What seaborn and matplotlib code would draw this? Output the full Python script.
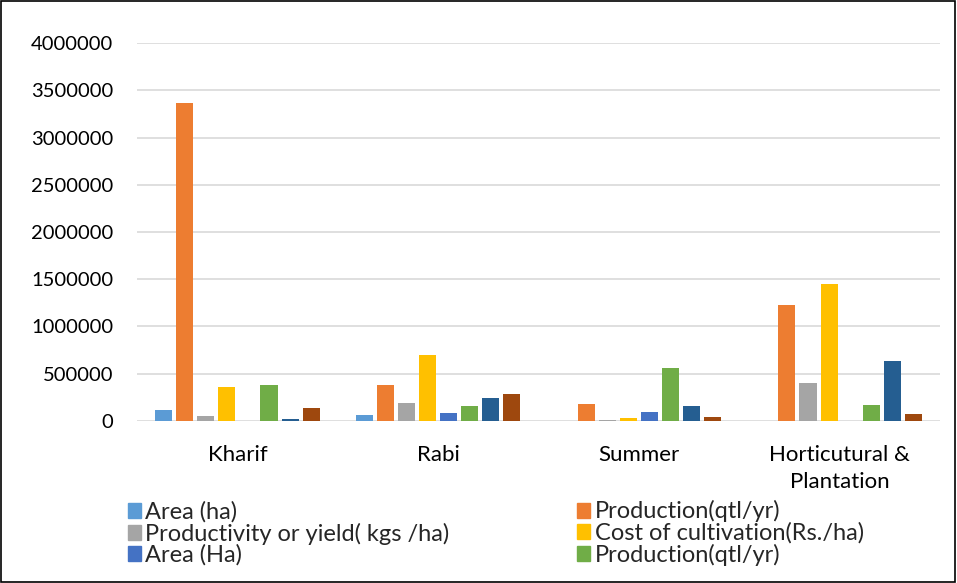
import pandas as pd
import seaborn as sns
from matplotlib import pyplot as plt
from matplotlib.patches import Patch
from matplotlib.ticker import StrMethodFormatter

seasons = ["Kharif", "Rabi", "Summer", "Horticutural &\nPlantation"]
series_labels = ["Area (ha)", "Production(qtl/yr)", "Productivity or yield( kgs /ha)",
                 "Cost of cultivation(Rs./ha)", "Area (Ha)", "Production(qtl/yr)",
                 "Productivity or yield( kgs /ha)", "Cost of cultivation(Rs./ha)"]
colors = ["#5B9BD5", "#ED7D31", "#A5A5A5", "#FFC000", "#4472C4", "#70AD47", "#255E91", "#9E480E"]

area_ha = [116000, 63000, 0, 0]
production = [3365000, 381000, 176000, 1227000]
productivity = [53000, 187000, 15000, 399000]
cost = [363000, 698000, 32000, 1450000]
area_Ha = [0, 85000, 95000, 0]
production2 = [381000, 162000, 564000, 173000]
productivity2 = [20000, 243000, 155000, 635000]
cost2 = [138000, 282000, 42000, 74000]

all_series = [area_ha, production, productivity, cost, area_Ha, production2, productivity2, cost2]

rows = []
for i, vals in enumerate(all_series):
    for s, v in zip(seasons, vals):
        rows.append({"season": s, "series": f"s{i}", "value": v})
df = pd.DataFrame(rows)

sns.set_style("white")
plt.rcParams['font.family'] = ['Lato', 'DejaVu Sans']

fig = plt.figure(figsize=(9.57, 5.83), dpi=100)
ax = fig.add_axes([0.1432, 0.278, 0.839, 0.648])

sns.barplot(data=df, x="season", y="value", hue="series", palette=colors,
            width=0.84, gap=0.19, ax=ax, legend=False, saturation=1, linewidth=0)

ax.set_xlim(-0.5, 3.5)
ax.set_ylim(0, 4000000)
ax.set_yticks(range(0, 4000001, 500000))
ax.yaxis.set_major_formatter(StrMethodFormatter("{x:.0f}"))
ax.yaxis.grid(True, color="#d9d9d9", linewidth=1.2)
ax.set_axisbelow(True)
for sp in ax.spines.values():
    sp.set_visible(False)
ax.set_xlabel("")
ax.set_ylabel("")
ax.tick_params(axis="both", length=0, colors="black")
ax.tick_params(axis="y", labelsize=14.5, pad=17)
ax.tick_params(axis="x", labelsize=16, pad=17)
for lbl in ax.get_xticklabels():
    lbl.set_linespacing(1.45)

# legend filled row by row, like the original
order = [0, 2, 4, 1, 3, 5]
handles = [Patch(color=colors[i]) for i in order]
labels = [series_labels[i] for i in order]
fig.legend(handles, labels, ncol=2, loc="upper left",
           bbox_to_anchor=(0.121, 0.162), frameon=False, fontsize=17,
           handlelength=0.55, handleheight=0.6, handletextpad=0.2,
           labelspacing=0.0, columnspacing=5.4, borderpad=0)

fig.patches.append(plt.Rectangle((0.001, 0.001), 0.997, 0.997, transform=fig.transFigure,
                                 fill=False, edgecolor="black", linewidth=1.2))

plt.savefig("out.png")
